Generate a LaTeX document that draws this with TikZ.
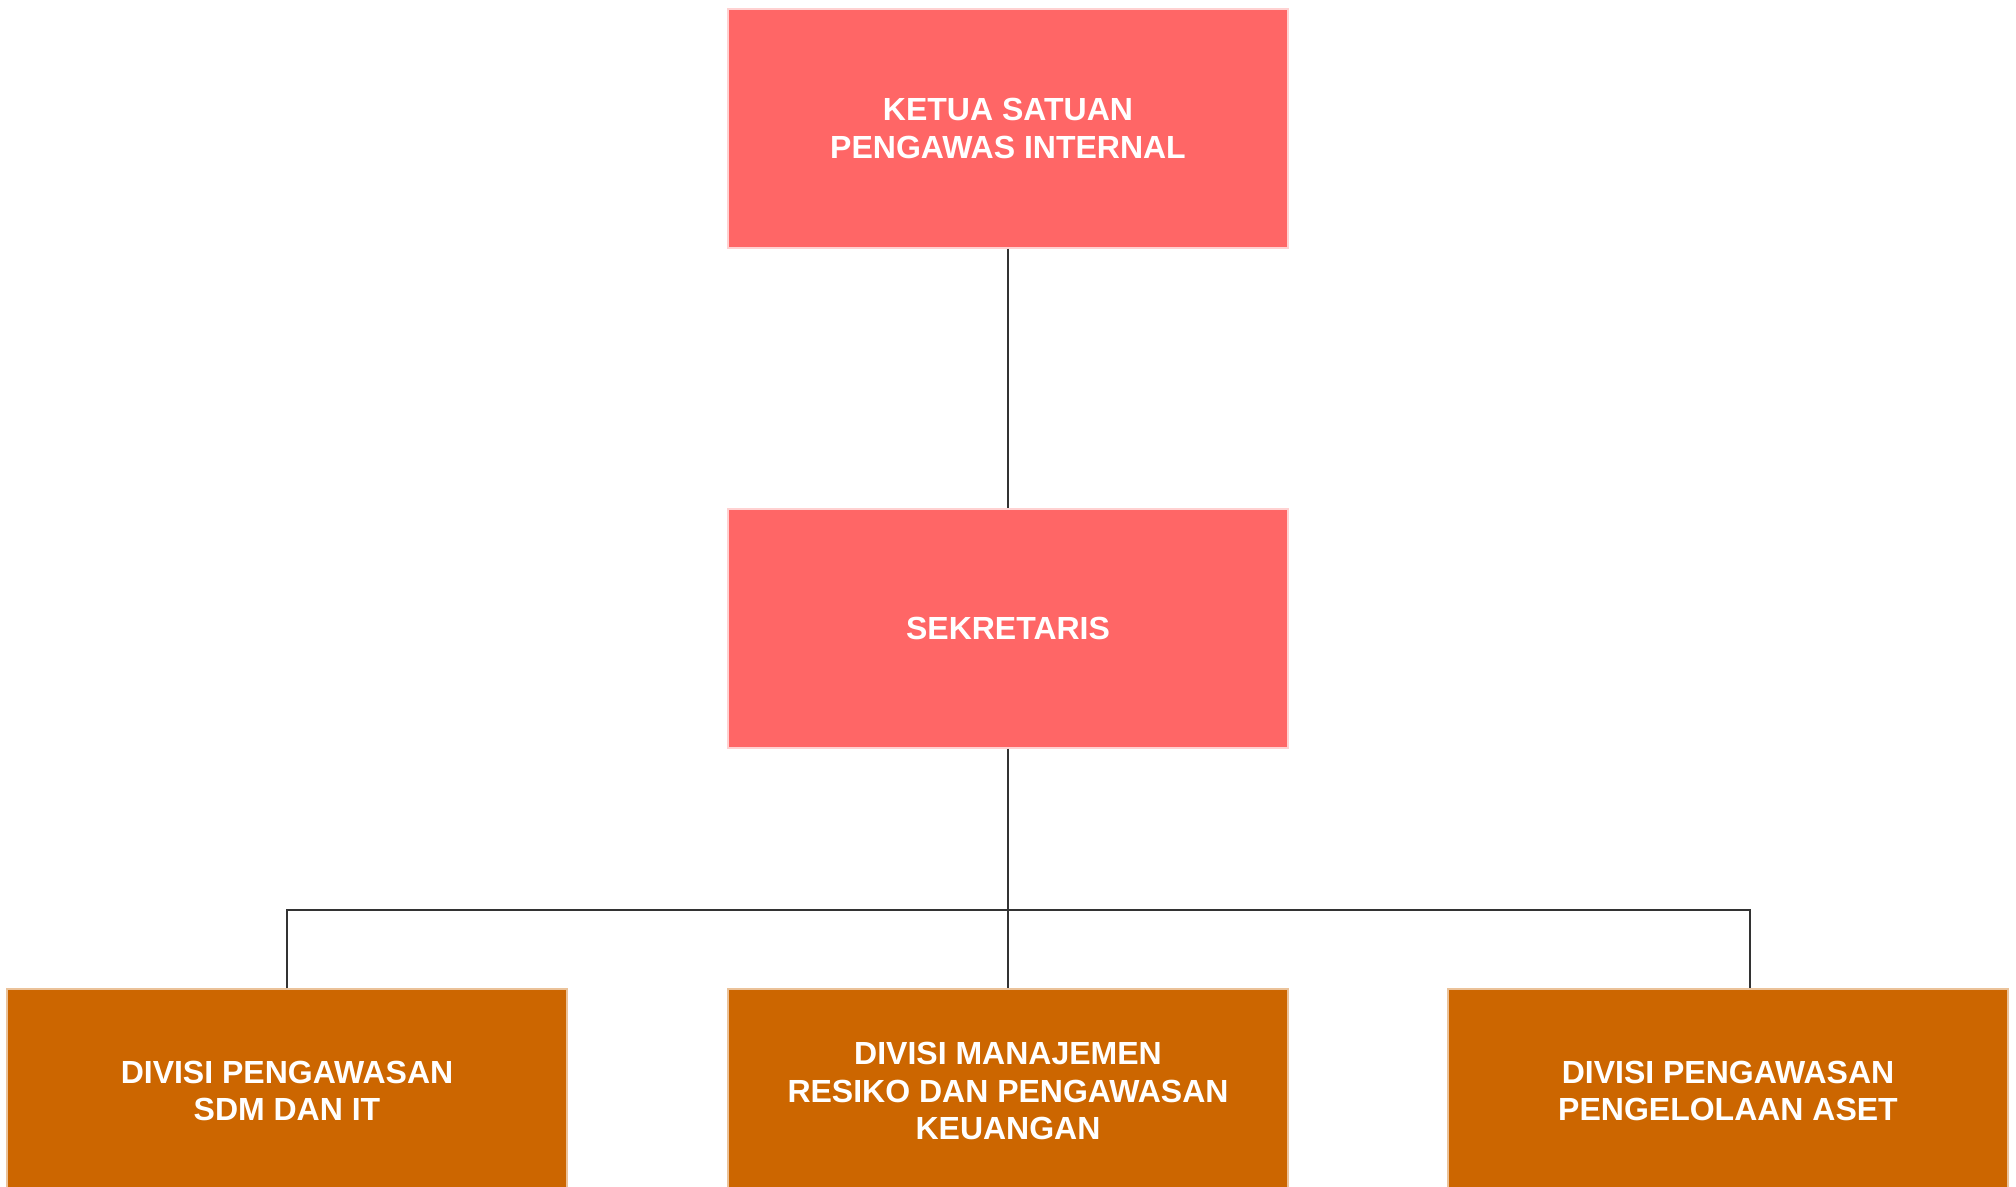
\documentclass[tikz,border=0pt]{standalone}
\usepackage{fontspec}
\setmainfont{Liberation Sans}
\usepackage{tikz}
\definecolor{merah}{HTML}{FF6666}
\definecolor{oranye}{HTML}{CC6600}
\tikzset{kotak/.style={shape=rectangle, draw=white!70!merah, line width=0.6pt, text=white, font=\bfseries\fontsize{16}{18.8}\selectfont, align=center, minimum width=280pt, inner sep=0pt}}
\tikzset{atas/.style={kotak, fill=merah, minimum height=119.5pt}}
\tikzset{bawah/.style={kotak, fill=oranye, draw=white!60!oranye, minimum height=102pt}}
\tikzset{garis/.style={draw=black!80, line width=1pt}}

\begin{document}
\begin{tikzpicture}[x=0.5pt,y=-0.5pt]
\useasboundingbox (0,0) rectangle (2016,1187);
\clip (0,0) rectangle (2016,1187);
\node[style=atas] (ketua) at (1008,128.5) {KETUA SATUAN\\PENGAWAS INTERNAL};
\node[style=atas] (sekretaris) at (1008,628.5) {SEKRETARIS};
\node[style=bawah] (sdm) at (287,1091) {DIVISI PENGAWASAN\\SDM DAN IT};
\node[style=bawah] (resiko) at (1008,1091) {DIVISI MANAJEMEN\\RESIKO DAN PENGAWASAN\\KEUANGAN};
\node[style=bawah] (aset) at (1728,1091) {DIVISI PENGAWASAN\\PENGELOLAAN ASET};
\coordinate (kanan) at (1750,910);
\draw[garis] (ketua) -- (sekretaris);
\draw[garis] (sekretaris) -- (resiko);
\draw[garis] (sdm) |- (kanan) -- (kanan |- aset.north);
\end{tikzpicture}
\end{document}
